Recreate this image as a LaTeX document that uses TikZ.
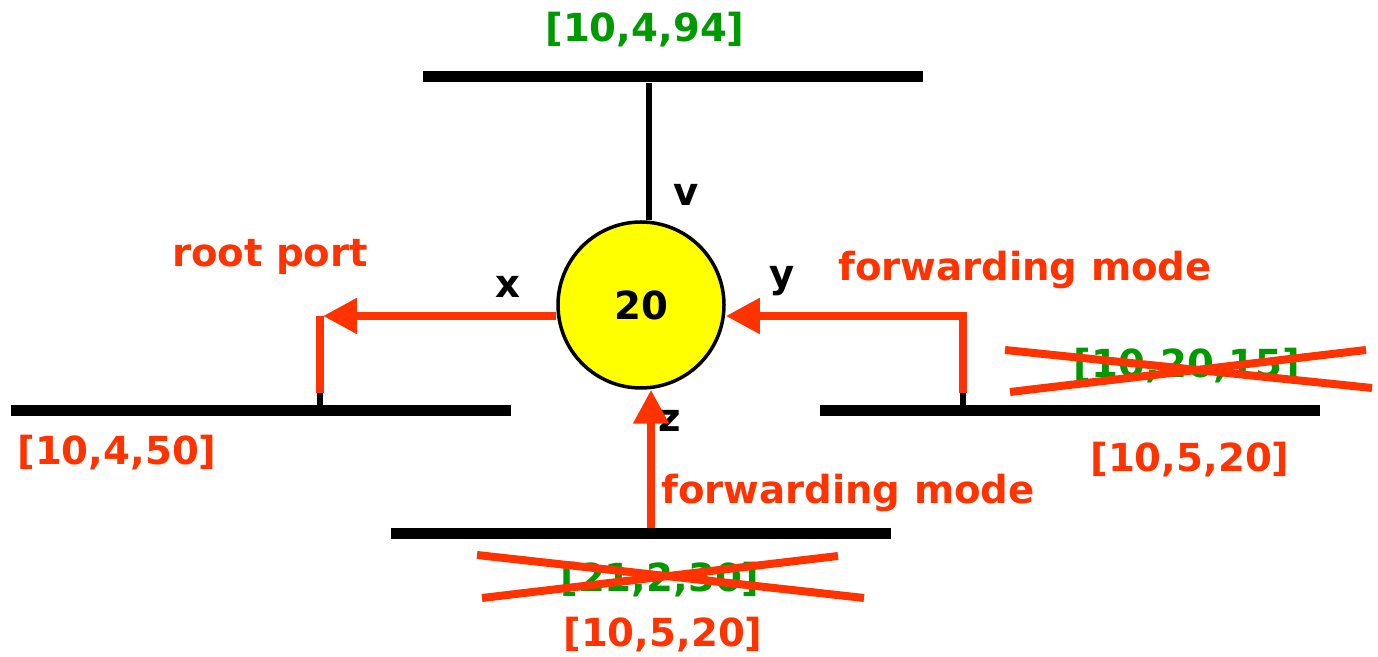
\documentclass[tikz,border=0pt]{standalone}
\usepackage{fontspec}
\setmainfont{DejaVu Sans}
\definecolor{portred}{RGB}{255, 51, 0}
\definecolor{costgreen}{RGB}{0, 153, 0}
\definecolor{bridgeyellow}{RGB}{255, 255, 0}
\usetikzlibrary{arrows.meta, positioning, calc}
\tikzset{
    lantext/.style={font=\fontsize{22}{26}\selectfont\bfseries, inner sep=0pt},
    costlabel/.style={lantext, text=costgreen},
    newlabel/.style={lantext, text=portred},
    portlabel/.style={lantext, text=black},
    lanbar/.style={draw=none, fill=black, rectangle, minimum width=10cm, minimum height=0.22cm, inner sep=0pt},
    bridge/.style={draw, circle, line width=0.07cm, fill=bridgeyellow, minimum size=3.32cm, inner sep=0pt, lantext},
    blackwire/.style={line width=0.12cm, draw=black},
    redwire/.style={line width=0.16cm, draw=portred},
    redarrow/.style={redwire, -{Triangle[length=0.68cm, width=0.68cm]}},
    strike/.style={line width=0.16cm, draw=portred},
}

\begin{document}
\begin{tikzpicture}
    \useasboundingbox (0,0) rectangle (27.56,13.14);

    % LANs
    \node[lanbar] (toplan) at (13.46, 11.6) {};
    \node[lanbar] (leftlan) at (5.21, 4.92) {};
    \node[lanbar] (rightlan) at (21.4, 4.92) {};
    \node[lanbar] (bottomlan) at (12.82, 2.46) {};

    % Bridge
    \node[bridge] (sw) at (12.82, 7.04) {20};

    % Port labels
    \node[portlabel] (pv) at (13.72, 9.24) {v};
    \node[portlabel] (px) at (10.16, 7.4) {x};
    \node[portlabel] (py) at (15.64, 7.52) {y};
    \node[portlabel] (pz) at (13.4, 4.72) {z};

    % Costs
    \node[costlabel] (toptag) at (12.9, 12.54) {[10,4,94]};
    \node[newlabel] (lefttag) at (2.34, 4.08) {[10,4,50]};
    \node[costlabel] (rightold) at (23.74, 5.82) {[10,20,15]};
    \node[newlabel] (rightnew) at (23.8, 3.94) {[10,5,20]};
    \node[costlabel] (bottomold) at (13.2, 1.54) {[21,2,30]};
    \node[newlabel] (bottomnew) at (13.26, 0.44) {[10,5,20]};

    % Modes
    \node[newlabel] (rootport) at (5.4, 8.0) {root port};
    \node[newlabel] (rightmode) at (20.5, 7.74) {forwarding mode};
    \node[newlabel] (bottommode) at (16.96, 3.28) {forwarding mode};

    % Wires
    \coordinate (lknee) at (6.4, 6.82);
    \coordinate (lfoot) at (6.4, 5.28);
    \coordinate (rknee) at (19.26, 6.82);
    \coordinate (rfoot) at (19.26, 5.28);
    \coordinate (vfoot) at ($(sw.north)+(0.15,0)$);

    \draw[blackwire] (vfoot) -- (vfoot |- toplan.south);
    \draw[blackwire] (lfoot) -- (lfoot |- leftlan.north);
    \draw[blackwire] (rfoot) -- (rfoot |- rightlan.north);

    \draw[redarrow] (lknee -| sw.west) -- ($(lknee)+(0.06,0)$);
    \draw[redwire] (lknee) -- (lfoot);
    \draw[redarrow] (rfoot) -- (rknee) -- (rknee -| sw.east);
    \draw[redarrow] ($(bottomlan.north)+(0.2,0)$) -- ($(sw.south)+(0.2,0)$);

    % Struck out costs
    \draw[strike] ([shift={(-3.64,0.32)}]rightold.center) -- ([shift={(3.7,-0.44)}]rightold.center);
    \draw[strike] ([shift={(-3.54,-0.52)}]rightold.center) -- ([shift={(3.58,0.32)}]rightold.center);
    \draw[strike] ([shift={(-3.66,0.5)}]bottomold.center) -- ([shift={(4.08,-0.36)}]bottomold.center);
    \draw[strike] ([shift={(-3.56,-0.36)}]bottomold.center) -- ([shift={(3.56,0.48)}]bottomold.center);
\end{tikzpicture}
\end{document}
